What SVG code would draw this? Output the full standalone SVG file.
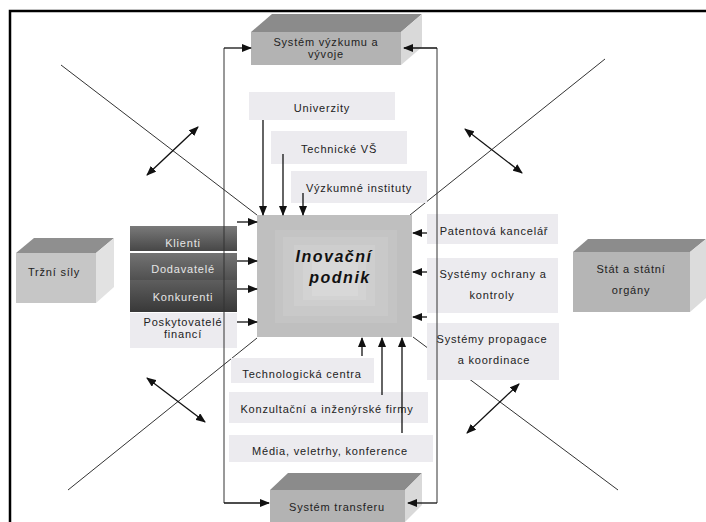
<svg xmlns="http://www.w3.org/2000/svg" width="706" height="522" viewBox="0 0 706 522">
<defs>
<style>
text{font-family:"Liberation Sans",Arial,sans-serif;font-size:11px;fill:#222;text-anchor:middle;letter-spacing:0.8px}
.lt{fill:#ecebef}
.ln{stroke:#333;stroke-width:1;fill:none}
.ar{stroke:#111;stroke-width:1.3;fill:none;marker-end:url(#ah)}
.dbl{stroke:#111;stroke-width:1.3;fill:none;marker-end:url(#ah);marker-start:url(#ah)}
.wt{fill:#e6e6e6}
.big{font-size:16px;font-weight:bold;font-style:italic;letter-spacing:1.5px;fill:#111}
</style>
<marker id="ah" viewBox="0 0 10 8" refX="9" refY="4" markerWidth="10" markerHeight="8" markerUnits="userSpaceOnUse" orient="auto-start-reverse">
<path d="M0,0 L10,4 L0,8 Z" fill="#111"/>
</marker>
<linearGradient id="g1" x1="0" y1="0" x2="0" y2="1"><stop offset="0" stop-color="#7a7a7a"/><stop offset="1" stop-color="#474747"/></linearGradient>
<linearGradient id="g2" x1="0" y1="0" x2="0" y2="1"><stop offset="0" stop-color="#737373"/><stop offset="1" stop-color="#505050"/></linearGradient>
<linearGradient id="g3" x1="0" y1="0" x2="0" y2="1"><stop offset="0" stop-color="#5e5e5e"/><stop offset="1" stop-color="#383838"/></linearGradient>
</defs>
<rect width="706" height="522" fill="#fff"/>
<path d="M10,522 V11 H706" stroke="#000" stroke-width="2.5" fill="none"/>

<g id="connectors">
<line class="ln" x1="61" y1="65" x2="257" y2="215"/>
<line class="ln" x1="605" y1="59" x2="410" y2="215"/>
<line class="ln" x1="68" y1="490" x2="257" y2="338"/>
<line class="ln" x1="618" y1="490" x2="413" y2="337"/>
<line class="dbl" x1="147" y1="175" x2="198" y2="127"/>
<line class="dbl" x1="465" y1="129" x2="522" y2="173"/>
<line class="dbl" x1="147" y1="378" x2="205" y2="422"/>
<line class="dbl" x1="519" y1="384" x2="467" y2="433"/>
</g>

<g id="n-vyzkum">
<polygon points="251,32 272,14 422,14 401,32" fill="#8b8b8b"/>
<polygon points="401,32 422,14 422,47 401,65" fill="#d9d9d9"/>
<rect x="251" y="32" width="150" height="33" fill="#b3b3b3"/>
<text x="326" y="46">Systém výzkumu a</text>
<text x="326" y="58">vývoje</text>
</g>

<g id="n-transfer">
<polygon points="270,490 288,473 422,473 405,490" fill="#8b8b8b"/>
<polygon points="405,490 422,473 422,505 405,522" fill="#d9d9d9"/>
<rect x="270" y="490" width="135" height="34" fill="#b3b3b3"/>
<text x="337" y="511">Systém transferu</text>
</g>

<g id="n-trzni">
<polygon points="16,253 34,238 114,238 96,253" fill="#8f8f8f"/>
<polygon points="96,253 114,238 114,287 96,303" fill="#e2e2e2"/>
<rect x="16" y="253" width="80" height="50" fill="#c6c6c6"/>
<text x="54" y="276">Tržní síly</text>
</g>

<g id="n-stat">
<polygon points="573,252 588,239 706,239 690,252" fill="#8c8c8c"/>
<polygon points="690,252 706,239 706,298 690,312" fill="#dcdcdc"/>
<rect x="573" y="252" width="117" height="60" fill="#b5b5b5"/>
<text x="631" y="273">Stát a státní</text>
<text x="631" y="294">orgány</text>
</g>

<g id="n-podnik">
<rect x="257" y="215" width="155" height="122" fill="#bfbfbf"/>
<rect x="275" y="230" width="122" height="93" fill="#c4c4c4"/>
<rect x="283" y="237" width="105" height="79" fill="#c9c9c9"/>
<rect x="294" y="245" width="81" height="61" fill="#cecece"/>
<rect x="303" y="252" width="63" height="48" fill="#d3d3d3"/>
<rect x="312" y="258" width="46" height="38" fill="#d8d8d8"/>
<text class="big" x="334" y="262">Inovační</text>
<text class="big" x="340" y="283">podnik</text>
</g>

<g id="n-univerzity"><rect class="lt" x="249" y="92" width="146" height="28"/><text x="322" y="112">Univerzity</text></g>
<g id="n-technicke"><rect class="lt" x="271" y="131" width="136" height="33"/><text x="339" y="153">Technické VŠ</text></g>
<g id="n-vyzkumne"><rect class="lt" x="291" y="171" width="136" height="32"/><text x="359" y="192">Výzkumné instituty</text></g>

<g id="n-klienti"><rect x="130" y="226" width="107" height="25" fill="url(#g1)"/><text class="wt" x="183" y="247">Klienti</text></g>
<g id="n-dodavatele"><rect x="130" y="253" width="107" height="27" fill="url(#g2)"/><text class="wt" x="183" y="273">Dodavatelé</text></g>
<g id="n-konkurenti"><rect x="130" y="280" width="107" height="32" fill="url(#g3)"/><text class="wt" x="183" y="301">Konkurenti</text></g>
<g id="n-poskytovatele"><rect class="lt" x="130" y="313" width="107" height="35"/><text x="183" y="326">Poskytovatelé</text><text x="183" y="338">financí</text></g>

<g id="n-patent"><rect class="lt" x="427" y="214" width="131" height="30"/><text x="494" y="235">Patentová kancelář</text></g>
<g id="n-ochrana"><rect class="lt" x="427" y="258" width="131" height="55"/><text x="493" y="278">Systémy ochrany a</text><text x="492" y="299">kontroly</text></g>
<g id="n-propagace"><rect class="lt" x="427" y="323" width="132" height="57"/><text x="492" y="343">Systémy propagace</text><text x="494" y="364">a koordinace</text></g>

<g id="n-techcentra"><rect class="lt" x="231" y="358" width="143" height="25"/><text x="302" y="378">Technologická centra</text></g>
<g id="n-konzult"><rect class="lt" x="229" y="392" width="199" height="31"/><text x="327" y="413">Konzultační a inženýrské firmy</text></g>
<g id="n-media"><rect class="lt" x="229" y="435" width="204" height="27"/><text x="330" y="455">Média, veletrhy, konference</text></g>

<g id="connectors-2">
<path class="ln" d="M224,48 V503" stroke="#111"/>
<path class="ln" d="M437,48 V503" stroke="#111"/>
<line class="ar" x1="224" y1="48" x2="251" y2="48"/>
<line class="ar" x1="437" y1="48" x2="404" y2="48"/>
<line class="ar" x1="224" y1="503" x2="269" y2="503"/>
<line class="ar" x1="437" y1="503" x2="408" y2="503"/>
<line class="ar" x1="263" y1="120" x2="263" y2="215"/>
<line class="ar" x1="283" y1="154" x2="283" y2="215"/>
<line class="ar" x1="303" y1="193" x2="303" y2="215"/>
<line class="ar" x1="237" y1="222" x2="257" y2="222"/>
<line class="ar" x1="237" y1="261" x2="257" y2="261"/>
<line class="ar" x1="237" y1="289" x2="257" y2="289"/>
<line class="ar" x1="237" y1="322" x2="257" y2="322"/>
<line class="ar" x1="427" y1="233" x2="413" y2="233"/>
<line class="ar" x1="427" y1="272" x2="413" y2="272"/>
<line class="ar" x1="427" y1="317" x2="413" y2="317"/>
<line class="ar" x1="362" y1="356" x2="362" y2="338"/>
<line class="ar" x1="382" y1="395" x2="382" y2="338"/>
<line class="ar" x1="402" y1="433" x2="402" y2="338"/>
</g>
</svg>
